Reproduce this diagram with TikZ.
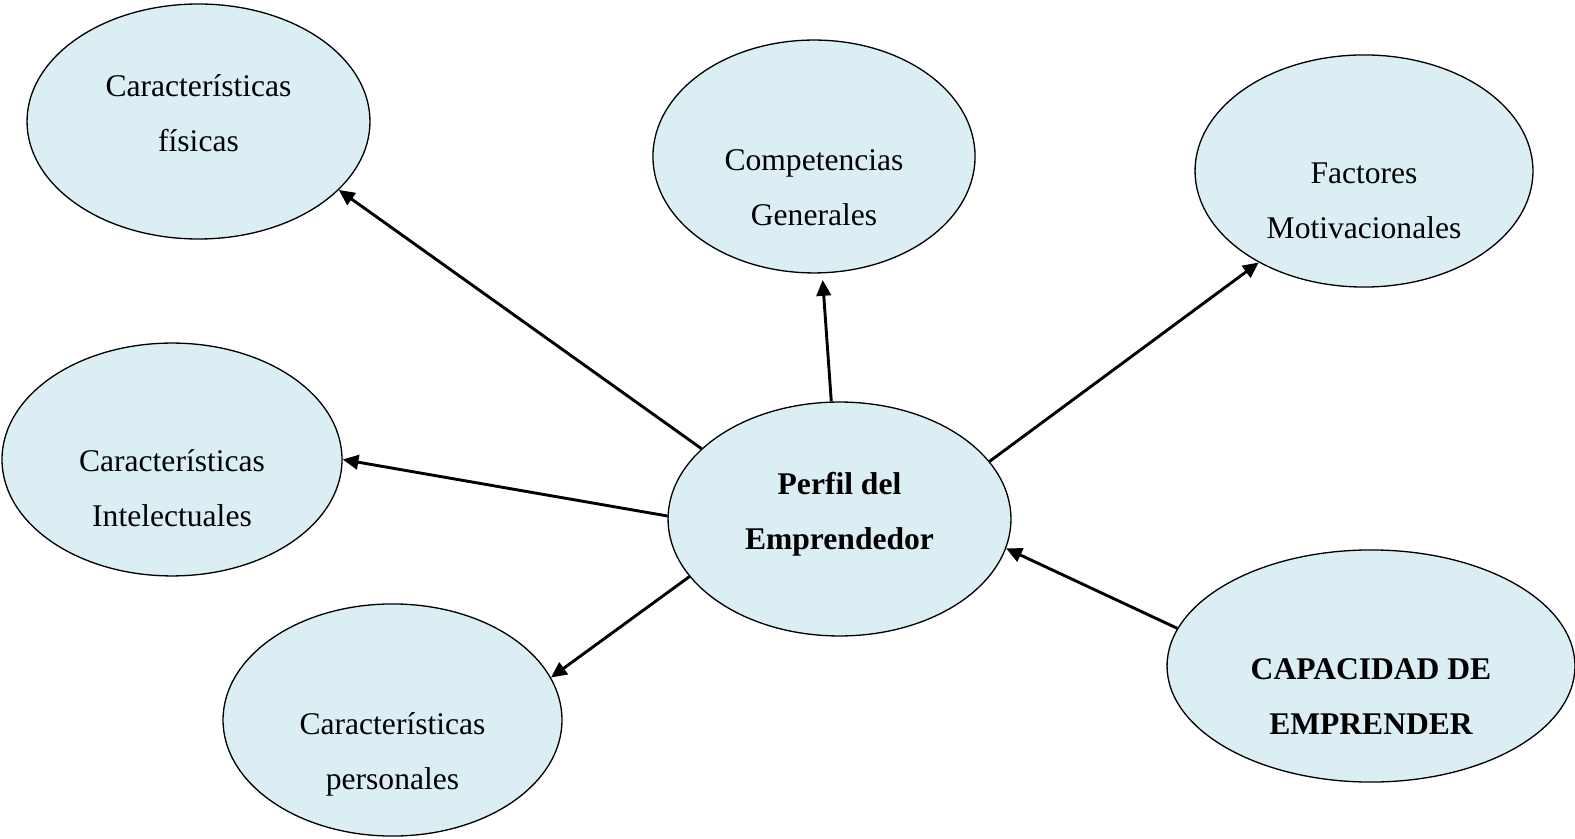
\documentclass[tikz,border=0pt]{standalone}
\usepackage{fontspec}
\setmainfont{Liberation Serif}
\usetikzlibrary{shapes.geometric,arrows.meta}
\definecolor{celeste}{HTML}{DAEEF3}
\begin{document}
\begin{tikzpicture}[x=0.38pt, y=-0.38pt,
    burbuja/.style 2 args={ellipse, draw, fill=celeste, line width=0.5pt,
        inner sep=0pt, minimum width=#1, minimum height=#2},
    texto/.style={align=center, font=\fontsize{12}{20.9}\selectfont},
    flecha/.style={-{Triangle[length=6pt,width=5.5pt]}, line width=1.1pt}]
    \useasboundingbox (0,0) rectangle (1575,839);

    % Elipses
    \node[burbuja={130.3pt}{89.3pt}] (fisicas) at (198.5,121.5) {};
    \node[burbuja={122.4pt}{88.5pt}] (compet) at (814,156.5) {};
    \node[burbuja={128.4pt}{88.2pt}] (factores) at (1364,171) {};
    \node[burbuja={129.2pt}{88.5pt}] (intelec) at (172,459.5) {};
    \node[burbuja={130.3pt}{88.9pt}] (perfil) at (839.5,519) {};
    \node[burbuja={128.8pt}{88.2pt}] (personal) at (392.5,720) {};
    \node[burbuja={155pt}{88.2pt}] (capacidad) at (1371,666) {};

    % Textos
    \node[texto] (fisicas-t) at (198.5,113) {Características\\físicas};
    \node[texto] (compet-t) at (814,187.5) {Competencias\\Generales};
    \node[texto] (factores-t) at (1364,200.5) {Factores\\Motivacionales};
    \node[texto] (intelec-t) at (172,488) {Características\\Intelectuales};
    \node[texto] (perfil-t) at (839.5,514) {\bfseries Perfil del\\\bfseries Emprendedor};
    \node[texto] (personal-t) at (392.5,754) {Características\\personales};
    \node[texto] (capacidad-t) at (1371,697) {\bfseries CAPACIDAD DE\\\bfseries EMPRENDER};

    % Flechas
    \draw[flecha] (perfil.153) -- (fisicas.334);
    \draw[flecha, shorten >=2.5pt] (perfil.94) -- (compet.274);
    \draw[flecha] (perfil.21) -- (factores.221);
    \draw[flecha] (perfil.179) -- (intelec.0);
    \draw[flecha] (perfil.201) -- (personal.15);
    \draw[flecha] (capacidad.169) -- (perfil.350);
\end{tikzpicture}
\end{document}
